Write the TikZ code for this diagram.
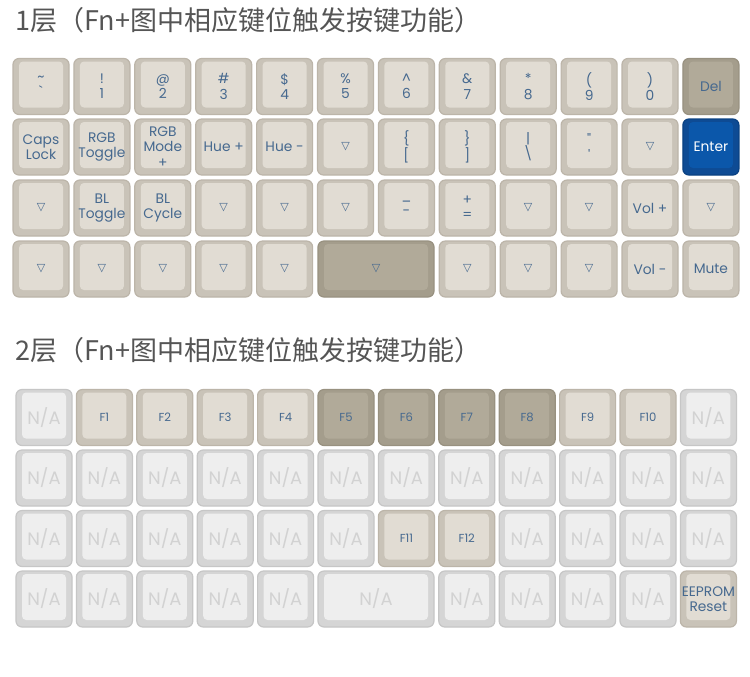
\documentclass[tikz,border=0pt]{standalone}
\usepackage{fontspec}
\setmainfont{Poppins}
\newfontfamily\cjk{Noto Sans CJK SC}
\newfontfamily\symfont{DejaVu Sans}
\usepackage{xcolor}
\usepackage{tikz}

\definecolor{keyrim}{HTML}{C9C3B8}
\definecolor{keyedge}{HTML}{BCB5A9}
\definecolor{keytop}{HTML}{E1DCD3}
\definecolor{darkrim}{HTML}{A49D8C}
\definecolor{darkedge}{HTML}{989180}
\definecolor{darktop}{HTML}{B1AA99}
\definecolor{enterrim}{HTML}{0E4B94}
\definecolor{enteredge}{HTML}{0A4182}
\definecolor{entertop}{HTML}{0B57AA}
\definecolor{narim}{HTML}{D5D5D5}
\definecolor{naedge}{HTML}{C6C6C6}
\definecolor{natop}{HTML}{EEEEEE}
\definecolor{natext}{HTML}{D2D2D2}
\definecolor{labelblue}{HTML}{46698F}
\definecolor{titlegray}{HTML}{555555}

\newcommand{\tri}{{\symfont\fontsize{5.5}{6}\selectfont ▽}}

\tikzset{
  keycap/.style n args={3}{rectangle, rounded corners=3pt, minimum width=28pt,
    minimum height=28pt, inner sep=0pt, fill=#1, draw=#2, line width=0.6pt,
    align=center, text=labelblue, font=\fontsize{6.9}{7.6}\selectfont,
    path picture={\fill[#3, rounded corners=2pt]
      ([shift={(3pt,-1.5pt)}]path picture bounding box.north west) rectangle
      ([shift={(-3pt,3.5pt)}]path picture bounding box.south east);}},
  plain/.style={keycap={keyrim}{keyedge}{keytop}},
  dark/.style={keycap={darkrim}{darkedge}{darktop}},
  enter/.style={keycap={enterrim}{enteredge}{entertop}, text=white},
  na/.style={keycap={narim}{naedge}{natop}, text=natext, font=\fontsize{9}{10}\selectfont},
  fkey/.style={font=\fontsize{5.8}{6}\selectfont},
  title/.style={anchor=west, inner sep=0pt, text=titlegray, font=\cjk\fontsize{13.5}{15}\selectfont}
}

\begin{document}
\begin{tikzpicture}[x=0.5pt, y=-0.5pt]
    % Background
    \path[use as bounding box, fill=white] (0,0) rectangle (750,676);

    % Layer 1
    \node[title] (title1) at (15,20) {1层（Fn+图中相应键位触发按键功能）};

    \foreach \lab [count=\i from 0] in {{\textasciitilde\\\textasciigrave}, {!\\1}, {@\\2}, {\#\\3},
        {\$\\4}, {\%\\5}, {\textasciicircum\\6}, {\&\\7}, {*\\8}, {(\\9}, {)\\0}}
        \node[plain] (l1r1c\i) at ({41+60.9*\i},86.5) {\lab};
    \node[dark] (l1r1c11) at ({41+60.9*11},86.5) {Del};

    \foreach \lab [count=\i from 0] in {{Caps\\Lock}, {RGB\\Toggle}, {RGB\\Mode\\+}, {Hue +}, {Hue -},
        {\tri}, {\{\\{[}}, {\}\\]}, {\textbar\\\textbackslash}, {\textquotedbl\\\textquotesingle}, {\tri}}
        \node[plain] (l1r2c\i) at ({41+60.9*\i},147) {\lab};
    \node[enter] (l1r2c11) at ({41+60.9*11},147) {Enter};

    \foreach \lab [count=\i from 0] in {{\tri}, {BL\\Toggle}, {BL\\Cycle}, {\tri}, {\tri}, {\tri},
        {\_\\-}, {+\\=}, {\tri}, {\tri}, {Vol +}, {\tri}}
        \node[plain] (l1r3c\i) at ({41+60.9*\i},208) {\lab};

    \foreach \i in {0,...,4}
        \node[plain] (l1r4c\i) at ({41+60.9*\i},269) {\tri};
    \node[dark, minimum width=58pt] (l1space) at (376,269) {\tri};
    \foreach \lab [count=\i from 7] in {{\tri}, {\tri}, {\tri}, {Vol -}, {Mute}}
        \node[plain] (l1r4c\i) at ({41+60.9*\i},269) {\lab};

    % Layer 2
    \node[title] (title2) at (15,350) {2层（Fn+图中相应键位触发按键功能）};

    \node[na] (l2r1c0) at (44,417.5) {N/A};
    \foreach \lab [count=\i from 1] in {F1,F2,F3,F4}
        \node[plain, fkey] (l2r1c\i) at ({44+60.4*\i},417.5) {\lab};
    \foreach \lab [count=\i from 5] in {F5,F6,F7,F8}
        \node[dark, fkey] (l2r1c\i) at ({44+60.4*\i},417.5) {\lab};
    \foreach \lab [count=\i from 9] in {F9,F10}
        \node[plain, fkey] (l2r1c\i) at ({44+60.4*\i},417.5) {\lab};
    \node[na] (l2r1c11) at ({44+60.4*11},417.5) {N/A};

    \foreach \i in {0,...,11}
        \node[na] (l2r2c\i) at ({44+60.4*\i},478) {N/A};

    \foreach \i in {0,...,5,8,9,10,11}
        \node[na] (l2r3c\i) at ({44+60.4*\i},538.5) {N/A};
    \node[plain, fkey] (l2r3c6) at ({44+60.4*6},538.5) {F11};
    \node[plain, fkey] (l2r3c7) at ({44+60.4*7},538.5) {F12};

    \foreach \i in {0,...,4,7,8,9,10}
        \node[na] (l2r4c\i) at ({44+60.4*\i},599) {N/A};
    \node[na, minimum width=58pt] (l2space) at (376,599) {N/A};
    \node[plain] (l2r4c11) at ({44+60.4*11},599) {EEPROM\\Reset};
\end{tikzpicture}
\end{document}
